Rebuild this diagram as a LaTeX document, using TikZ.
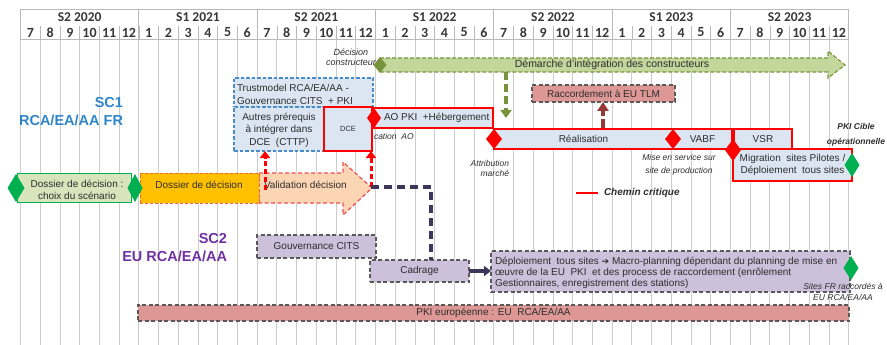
\documentclass[tikz,border=0pt]{standalone}
\usepackage{fontspec}
\setmainfont{Liberation Sans}
\newfontfamily\hdrfont{Carlito}
\newfontfamily\symfont{DejaVu Sans}
\usetikzlibrary{shapes.geometric,arrows.meta}

\definecolor{ink}{RGB}{45,45,45}
\definecolor{hdrink}{RGB}{55,55,55}
\definecolor{gridgray}{RGB}{205,205,205}
\definecolor{hdrline}{RGB}{185,185,185}
\definecolor{critred}{RGB}{255,0,0}
\definecolor{paleblue}{RGB}{220,230,242}
\definecolor{dashblue}{RGB}{70,140,200}
\definecolor{sconeblue}{RGB}{46,134,200}
\definecolor{sctwopurple}{RGB}{112,48,160}
\definecolor{milegreen}{RGB}{0,176,80}
\definecolor{olive}{RGB}{119,147,60}
\definecolor{lightolive}{RGB}{195,214,155}
\definecolor{palegreen}{RGB}{215,228,188}
\definecolor{amber}{RGB}{255,192,0}
\definecolor{amberedge}{RGB}{240,100,60}
\definecolor{peach}{RGB}{252,213,180}
\definecolor{peachedge}{RGB}{232,80,80}
\definecolor{salmon}{RGB}{221,152,150}
\definecolor{lilac}{RGB}{204,192,218}
\definecolor{dashgray}{RGB}{89,89,89}
\definecolor{navy}{RGB}{60,55,90}
\definecolor{brick}{RGB}{149,55,53}

\begin{document}
\begin{tikzpicture}[x=1pt,y=-1pt,
  every node/.style={inner sep=0pt, outer sep=0pt, text=ink,
    font=\fontsize{10}{12}\selectfont},
  semlabel/.style={font=\hdrfont\bfseries\fontsize{13.5}{13.5}\selectfont, text=hdrink},
  monlabel/.style={font=\hdrfont\bfseries\fontsize{14}{14}\selectfont, text=hdrink},
  gridln/.style={draw=gridgray, line width=0.8pt},
  barbox/.style={rectangle, anchor=north west},
  critbox/.style={barbox, draw=critred, line width=2.6pt, fill=paleblue},
  prebox/.style={barbox, draw=dashblue, line width=1.2pt,
    dash pattern=on 3.5pt off 2pt, fill=paleblue},
  eubox/.style={barbox, draw=dashgray, line width=1.2pt,
    dash pattern=on 4pt off 2.5pt, fill=lilac},
  pinkbox/.style={barbox, draw=dashgray, line width=1.2pt,
    dash pattern=on 4pt off 2.5pt, fill=salmon},
  milestone/.style={diamond, inner sep=0pt, draw=none},
  note/.style={font=\itshape\fontsize{8.5}{9.5}\selectfont, align=center},
  scname/.style={font=\bfseries\fontsize{14.5}{18}\selectfont, align=right, anchor=east},
  critline/.style={draw=critred, line width=3pt, dash pattern=on 5pt off 3pt,
    -{Triangle[width=10pt,length=7pt]}},
]
\useasboundingbox (0,0) rectangle (887,345);

% ---------- month grid ----------
\foreach \i in {0,...,42}{
  \draw[gridln] ({20.5+19.72*\i},39) -- ({20.5+19.72*\i},345);
}

% ---------- header: semesters and months ----------
\draw[hdrline, line width=0.8pt] (20.5,9) rectangle (848.7,39);
\foreach \i in {1,...,6}{
  \draw[hdrline, line width=0.8pt] ({20.5+118.32*\i},9) -- ({20.5+118.32*\i},39);
}
\foreach \i in {1,...,41}{
  \draw[hdrline, line width=0.6pt] ({20.5+19.72*\i},26) -- ({20.5+19.72*\i},39);
}
\foreach \s [count=\k from 0] in {S2 2020,S1 2021,S2 2021,S1 2022,S2 2022,S1 2023,S2 2023}{
  \node[semlabel] (sem\k) at ({20.5+118.32*\k+59.16},17.5) {\s};
}
\foreach \m [count=\k from 0] in {7,8,9,10,11,12,1,2,3,4,5,6,7,8,9,10,11,12,1,2,3,4,5,6,
                                  7,8,9,10,11,12,1,2,3,4,5,6,7,8,9,10,11,12}{
  \node[monlabel] (mon\k) at ({20.5+19.72*\k+9.86},32.5) {\m};
}

% ---------- SC1 / SC2 titles ----------
\node[scname, text=sconeblue] (sc1) at (123,112) {SC1\\RCA/EA/AA FR};
\node[scname, text=sctwopurple] (sc2) at (227,248) {SC2\\EU RCA/EA/AA};

% ---------- constructors' integration arrow ----------
\draw[fill=lightolive, draw=olive, line width=1.1pt, dash pattern=on 4pt off 2pt]
  (380,58) -- (828,58) -- (828,51) -- (845,65) -- (828,78) -- (828,72) -- (380,72) -- cycle;
\node[font=\fontsize{10.5}{12}\selectfont] (demarche) at (612,65) {Démarche d'intégration des constructeurs};
\node[note, font=\itshape\fontsize{9}{10}\selectfont] (decons) at (351,57) {Décision\\constructeur};
\node[milestone, fill=olive, minimum width=13pt, minimum height=16pt] (mdec) at (380,65) {};
\coordinate (gtop) at (506,72);
\coordinate (gtip) at (506,118);
\draw[draw=olive, line width=4pt, dash pattern=on 8pt off 4pt,
  -{Triangle[width=11pt,length=8pt]}] (gtop) -- (gtip);

% ---------- connection to EU TLM ----------
\node[pinkbox, minimum width=143pt, minimum height=17pt] (racc) at (532,85) {};
\node at (racc.center) {Raccordement à EU TLM};

% ---------- SC1 prerequisites ----------
\node[prebox, minimum width=139pt, minimum height=29pt] (trust) at (234,78) {};
\node[anchor=west, align=left, font=\fontsize{10}{13}\selectfont] (trusttxt) at (237,94.5)
  {Trustmodel RCA/EA/AA -\\Gouvernance CITS\ \ + PKI};
\node[prebox, minimum width=90pt, minimum height=44pt] (autres) at (234,107) {};
\node[align=center, font=\fontsize{10}{12.5}\selectfont] (autrestxt) at (279,130)
  {Autres prérequis\\à intégrer dans\\DCE\ \ (CTTP)};

% ---------- critical path ----------
\node[note, anchor=west, font=\itshape\fontsize{8.5}{10}\selectfont] (pubao) at (374,136) {cation\ \ AO};
\node[critbox, minimum width=120pt, minimum height=20pt] (ao) at (373,108) {};
\node[anchor=west] (aotxt) at (384,118) {AO PKI\ \ +Hébergement};
\node[critbox, minimum width=48pt, minimum height=44pt] (dce) at (324,107) {};
\node[font=\fontsize{7.5}{9}\selectfont] at (dce.center) {DCE};
\node[critbox, minimum width=179pt, minimum height=20pt] (real) at (494,129) {};
\node at (real.center) {Réalisation};
\node[critbox, minimum width=59pt, minimum height=20pt] (vabf) at (673,129) {};
\node at (vabf.center) {VABF};
\node[critbox, minimum width=58pt, minimum height=20pt] (vsr) at (734,129) {};
\node at (vsr.center) {VSR};
\node[critbox, minimum width=119pt, minimum height=32pt] (migr) at (733,149) {};
\node[align=center, font=\fontsize{10}{12}\selectfont] at (migr.center)
  {Migration\ \ sites Pilotes /\\Déploiement\ \ tous sites};

\coordinate (rtail) at (603,128);
\draw[draw=brick, line width=4.5pt, dash pattern=on 9pt off 3pt,
  -{Triangle[width=11pt,length=9pt]}] (rtail) -- (rtail |- racc.south);

\node[milestone, fill=critred, minimum width=14pt, minimum height=20pt] (mao) at (374,118) {};
\node[milestone, fill=critred, minimum width=16pt, minimum height=20pt] (mattr) at (494,139) {};
\node[milestone, fill=critred, minimum width=16pt, minimum height=20pt] (mmes) at (673,139) {};
\node[milestone, fill=critred, minimum width=16pt, minimum height=22pt] (mvsr) at (733,150) {};
\node[milestone, fill=milegreen, minimum width=15pt, minimum height=24pt] (mcible) at (852,165) {};

\node[note, anchor=east, align=right] (attr) at (509,168.5) {Attribution\\marché};
\node[note, font=\itshape\fontsize{8.5}{13}\selectfont] (mes) at (679,164.5) {Mise en service sur\\site de production};
\node[note, font=\bfseries\itshape\fontsize{8.5}{15}\selectfont] (cible) at (856,134.5) {PKI Cible\\opérationnelle};

% ---------- legend ----------
\coordinate (lgA) at (576,193);
\coordinate (lgB) at (598,193);
\draw[critred, line width=2.6pt] (lgA) -- (lgB);
\node[anchor=west, font=\bfseries\itshape\fontsize{10}{12}\selectfont] (lgtxt) at (604,193) {Chemin critique};

% ---------- decision phase ----------
\draw[fill=peach, draw=peachedge, line width=1.2pt, dash pattern=on 4pt off 2.5pt]
  (259,173) -- (343,173) -- (343,162) -- (372,188) -- (343,215) -- (343,203) -- (259,203) -- cycle;
\node[anchor=west] (valid) at (264,185) {Validation décision};
\node[barbox, fill=palegreen, draw=milegreen, line width=0.9pt,
  minimum width=114pt, minimum height=29pt] (dossa) at (17,173) {};
\node[align=center, font=\fontsize{10}{12}\selectfont] at (77,190) {Dossier de décision :\\choix du scénario};
\node[barbox, fill=amber, draw=amberedge, line width=1pt, dash pattern=on 3pt off 2pt,
  minimum width=119pt, minimum height=30pt] (dossb) at (140,173) {};
\node[font=\fontsize{10}{12}\selectfont] at (199,184.5) {Dossier de décision};
\node[milestone, fill=milegreen, minimum width=17pt, minimum height=28pt] (mstart) at (16,188) {};
\node[milestone, fill=milegreen, minimum width=15pt, minimum height=28pt] (mscen) at (135,188) {};

\coordinate (vtailA) at (265,190);
\coordinate (vtailB) at (371,187);
\draw[critline] (vtailA) -- (vtailA |- autres.south);
\draw[critline] (vtailB) -- (vtailB |- dce.south);

% ---------- SC2 ----------
\node[eubox, minimum width=119pt, minimum height=23pt] (gouv) at (257,235) {};
\node at (gouv.center) {Gouvernance CITS};
\node[eubox, minimum width=99pt, minimum height=22pt] (cadr) at (370,260) {};
\node at (cadr.center) {Cadrage};
\node[eubox, minimum width=359pt, minimum height=41pt] (deploi) at (491,251) {};
\node[anchor=west, align=left, font=\fontsize{10}{11}\selectfont] (deploitxt) at (495,272.5)
  {Déploiement\ \ tous sites {\symfont\fontsize{9}{11}\selectfont ➔} Macro-planning dépendant du planning de mise en\\
   œuvre de la EU\ \ PKI\ \ et des process de raccordement (enrôlement\\
   Gestionnaires, enregistrement des stations)};
\node[milestone, fill=milegreen, minimum width=15pt, minimum height=24pt] (msites) at (851,268) {};
\node[note, font=\itshape\fontsize{8.5}{11}\selectfont] (sites) at (843,291.5) {Sites FR raccordés à\\EU RCA/EA/AA};

\draw[navy, line width=3.5pt, dash pattern=on 8pt off 5pt] (vtailB) -| (cadr.north -| 431,0);
\draw[navy, line width=3.5pt, -{Triangle[width=10pt,length=7pt]}] (cadr.east) -- (deploi.west |- cadr.east);

% ---------- European PKI ----------
\node[pinkbox, minimum width=711pt, minimum height=16pt] (pkieu) at (138,305) {};
\node at (pkieu.center) {PKI européenne : EU\ \ RCA/EA/AA};

\end{tikzpicture}
\end{document}
